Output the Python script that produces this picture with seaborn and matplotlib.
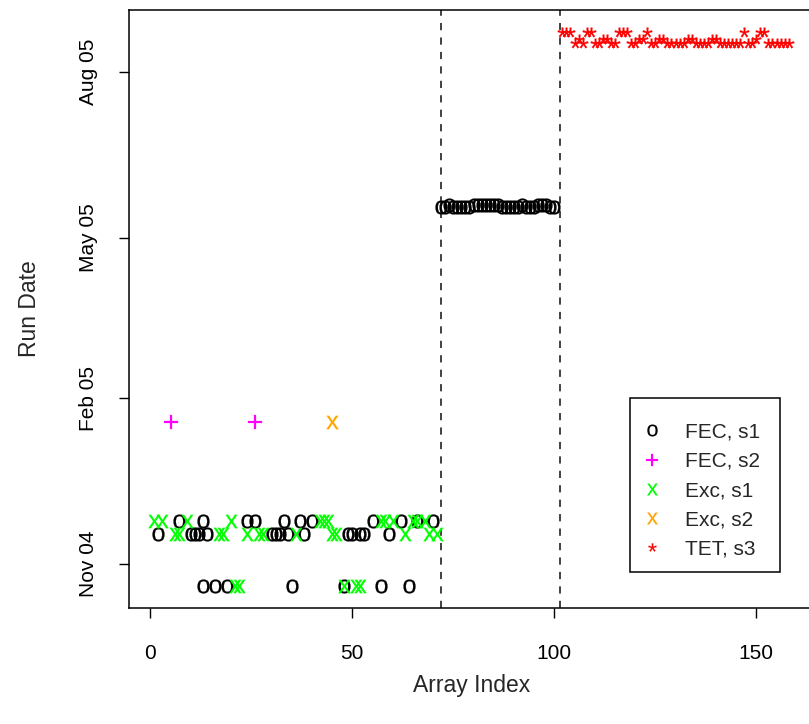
import matplotlib
matplotlib.use("Agg")
import numpy as np
import pandas as pd
import matplotlib.pyplot as plt
import matplotlib.dates as mdates
from matplotlib.lines import Line2D
from matplotlib.patches import Rectangle
from matplotlib.path import Path
from matplotlib.textpath import TextPath
from matplotlib.font_manager import FontProperties
import seaborn as sns

sns.set_style("ticks")
plt.rcParams["font.family"] = ["Liberation Sans", "DejaVu Sans"]

# ---- run dates -------------------------------------------------------------
date_late_nov = "2004-11-25"
date_mid_nov = "2004-11-18"
date_oct = "2004-10-20"
date_jan = "2005-01-19"

# ---- array indices per sample group and run date ---------------------------
fec_s1_late_nov = [7, 13, 24, 26, 33, 37, 40, 55, 62, 66, 70]
fec_s1_mid_nov = [2, 10, 11, 12, 14, 30, 31, 32, 34, 38, 49, 50, 52, 53, 59]
fec_s1_oct = [13, 16, 19, 35, 48, 57, 64]

exc_s1_late_nov = [1, 3, 9, 20, 42, 43, 44, 57, 58, 60, 65, 66, 68]
exc_s1_mid_nov = [6, 7, 17, 18, 24, 27, 28, 36, 45, 46, 63, 69, 71]
exc_s1_oct = [21, 22, 48, 51, 52]

fec_s2_jan = [5, 26]
exc_s2_jan = [45]

# second FEC batch (May 2005), day of month per array
fec_s1_may_index = [72, 73, 74, 75, 76, 77, 78, 79, 80, 81, 82, 83, 84, 85, 86,
                    87, 88, 89, 90, 91, 92, 93, 94, 95, 96, 97, 98, 99, 100]
fec_s1_may_day = [18, 18, 19, 18, 18, 18, 18, 18, 19, 19, 19, 19, 19, 19, 19,
                  18, 18, 18, 18, 18, 19, 18, 18, 18, 19, 19, 19, 18, 18]

# TET batch (August 2005), day of month per array
tet_s3_index = list(range(102, 159))
tet_s3_day = [23, 23, 23, 17, 19, 17, 23, 23, 17, 17, 19, 19, 17, 17, 23, 23,
              23, 17, 17, 19, 19, 23, 17, 17, 19, 19, 17, 17, 17, 17, 17, 19,
              19, 17, 17, 17, 17, 19, 19, 17, 17, 17, 17, 17, 17, 23, 17, 17,
              19, 23, 23, 17, 17, 17, 17, 17, 17]

group_labels = ["FEC, s1", "FEC, s2", "Exc, s1", "Exc, s2", "TET, s3"]
group_colors = ["black", "#FF00FF", "#00FF00", "#FFA500", "#FF0000"]
group_glyphs = ["o", "+", "x", "x", "*"]
divider_positions = [72, 101.5]

_glyph_font = FontProperties(family="Liberation Sans")


def glyph_marker(ch):
    """Character outline centred on the origin, usable as a marker."""
    tp = TextPath((0, 0), ch, size=1, prop=_glyph_font)
    verts = tp.vertices.copy()
    codes = tp.codes
    drawn = codes != Path.CLOSEPOLY
    lo = verts[drawn].min(axis=0)
    hi = verts[drawn].max(axis=0)
    centre = (lo + hi) / 2
    verts[~drawn] = centre
    return Path(verts - centre, codes)


def rows(indices, dates, group):
    if isinstance(dates, str):
        dates = [dates] * len(indices)
    return pd.DataFrame({"index": indices,
                         "run_date": pd.to_datetime(dates),
                         "group": group})


may_dates = [f"2005-05-{d:02d}" for d in fec_s1_may_day]
aug_dates = [f"2005-08-{d:02d}" for d in tet_s3_day]

df = pd.concat([
    rows(fec_s1_late_nov, date_late_nov, "FEC, s1"),
    rows(fec_s1_mid_nov, date_mid_nov, "FEC, s1"),
    rows(fec_s1_oct, date_oct, "FEC, s1"),
    rows(fec_s1_may_index, may_dates, "FEC, s1"),
    rows(fec_s2_jan, date_jan, "FEC, s2"),
    rows(exc_s1_late_nov, date_late_nov, "Exc, s1"),
    rows(exc_s1_mid_nov, date_mid_nov, "Exc, s1"),
    rows(exc_s1_oct, date_oct, "Exc, s1"),
    rows(exc_s2_jan, date_jan, "Exc, s2"),
    rows(tet_s3_index, aug_dates, "TET, s3"),
], ignore_index=True)

W, H = 809, 724
fig = plt.figure(figsize=(W / 100, H / 100), dpi=100)
ax = fig.add_axes([129 / W, 116 / H, 685 / W, 598 / H])

sizes = {"o": 100, "+": 100, "x": 92, "*": 50}
for label, color, glyph in zip(group_labels, group_colors, group_glyphs):
    sub = df[df["group"] == label]
    sns.scatterplot(data=sub, x="index", y="run_date", ax=ax,
                    marker=glyph_marker(glyph), color=color, s=sizes[glyph],
                    edgecolor=color, linewidth=0.15, legend=False, zorder=3)

for xv in divider_positions:
    ax.axvline(xv, color="#333333", lw=1.3, ls=(0, (4, 4)), zorder=2)

# R-style 4% padding around the data range
xmin, xmax = df["index"].min(), df["index"].max()
xr = xmax - xmin
ax.set_xlim(xmin - 0.04 * xr, xmax + 0.04 * xr)
ymin = mdates.date2num(df["run_date"].min())
ymax = mdates.date2num(df["run_date"].max())
yr = ymax - ymin
ax.set_ylim(ymin - 0.04 * yr, ymax + 0.04 * yr)

ax.set_xticks([0, 50, 100, 150])
ytick_dates = pd.to_datetime(["2004-11-01", "2005-02-01", "2005-05-01", "2005-08-01"])
ax.set_yticks(mdates.date2num(ytick_dates))
ax.yaxis.set_major_formatter(mdates.DateFormatter("%b %y"))
for t in ax.get_yticklabels():
    t.set_rotation(90)
    t.set_va("center")

ax.tick_params(axis="both", direction="out", length=7, width=1, color="black",
               labelsize=15, labelcolor="black")
ax.tick_params(axis="x", pad=19)
ax.tick_params(axis="y", pad=15)
for sp in ax.spines.values():
    sp.set_visible(True)
    sp.set_color("black")
    sp.set_linewidth(1.1)

ax.set_xlabel("Array Index", fontsize=16.5, labelpad=8)
ax.set_ylabel("Run Date", fontsize=16.5, labelpad=28)

# legend: R-style box drawn separately, entries placed inside
ax.add_patch(Rectangle((0.7314, 0.0602), 0.219, 0.291, transform=ax.transAxes,
                       fill=True, facecolor="white", edgecolor="black",
                       linewidth=1.1, zorder=4))
leg_sizes = {"o": 8.5, "+": 9, "x": 8.5, "*": 6}
handles = [Line2D([], [], ls="none", marker=glyph_marker(g), color=c,
                  markersize=leg_sizes[g], markeredgewidth=0.1)
           for g, c in zip(group_glyphs, group_colors)]
leg = ax.legend(handles, group_labels, loc="upper left",
                bbox_to_anchor=(0.7498, 0.310), fontsize=15, frameon=False,
                handlelength=0.9, handletextpad=1.14, labelspacing=0.49,
                borderpad=0, borderaxespad=0)
leg.set_zorder(5)

fig.savefig("out.png", dpi=100)
